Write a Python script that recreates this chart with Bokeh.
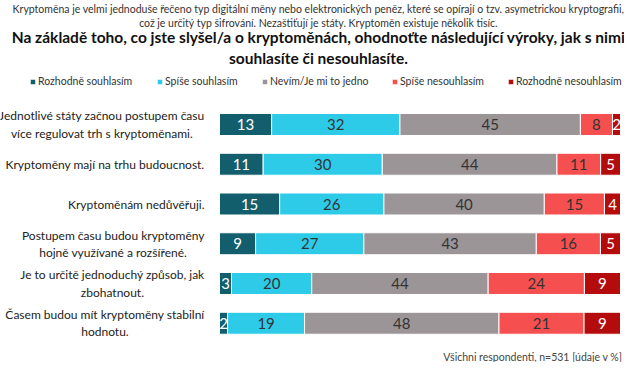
import numpy as np
from bokeh.plotting import figure
from bokeh.models import ColumnDataSource, Range1d, Legend, LegendItem
from bokeh.core.properties import value
from bokeh.embed import file_html
from bokeh.resources import INLINE

# ---------------- data ----------------
categories = [
    "Jednotlivé státy začnou postupem času\nvíce regulovat trh s kryptoměnami.",
    "Kryptoměny mají na trhu budoucnost.",
    "Kryptoměnám nedůvěřuji.",
    "Postupem času budou kryptoměny\nhojně využívané a rozšířené.",
    "Je to určitě jednoduchý způsob, jak\nzbohatnout.",
    "Časem budou mít kryptoměny stabilní\nhodnotu.",
]
series_names = ["Rozhodně souhlasím", "Spíše souhlasím", "Nevím/Je mi to jedno",
                "Spíše nesouhlasím", "Rozhodně nesouhlasím"]
rozhodne_souhlasim = [13, 11, 15, 9, 3, 2]
spise_souhlasim = [32, 30, 26, 27, 20, 19]
nevim = [45, 44, 40, 43, 44, 48]
spise_nesouhlasim = [8, 11, 15, 16, 24, 21]
rozhodne_nesouhlasim = [2, 5, 4, 5, 9, 9]

subtitle = ("Kryptoměna je velmi jednoduše řečeno typ digitální měny nebo elektronických peněz, "
            "které se opírají o tzv. asymetrickou kryptografii,\n"
            "což je určitý typ šifrování. Nezaštiťují je státy. Kryptoměn existuje několik tisíc.")
title = ("Na základě toho, co jste slyšel/a o kryptoměnách, ohodnoťte následující výroky, jak s nimi\n"
         "souhlasíte či nesouhlasíte.")
footer = "Všichni respondenti, n=531 [údaje v %]"

# ---------------- style ----------------
colors = ["#135e6c", "#2ecbe9", "#9c9597", "#f5504f", "#b40c0c"]
label_colors = ["#ffffff", "#333333", "#333333", "#333333", "#ffffff"]
FONT = "Lato"
LEGEND_X = [29, 156, 261, 391, 507]   # screen x of each legend entry

FIG_W, FIG_H = 624, 362
X0_PX, X1_PX = 219, 620      # bar start / end in figure pixels
Y0_PX, DY_PX = 124, 39.75    # first row center, row spacing


def dx(px):
    return (px - X0_PX) / (X1_PX - X0_PX) * 100.0


def dy(py):
    return (py - Y0_PX) / DY_PX


series = [rozhodne_souhlasim, spise_souhlasim, nevim, spise_nesouhlasim, rozhodne_nesouhlasim]
vals = np.array(series, dtype=float)          # shape (5, rows)
totals = vals.sum(axis=0)
shares = vals / totals * 100.0                # stacked to 100 %

rows = list(range(len(categories)))
keys = [f"s{i}" for i in range(len(series))]
data = {"y": rows}
for k, sh in zip(keys, shares):
    data[k] = list(sh)
src = ColumnDataSource(data)

p = figure(width=FIG_W, height=FIG_H,
           x_range=Range1d(dx(0), dx(FIG_W)),
           y_range=Range1d(dy(FIG_H), dy(0)),
           output_backend="svg", toolbar_location=None,
           x_axis_location=None, y_axis_location=None, min_border=0)
p.grid.visible = False
p.outline_line_color = None

renderers = p.hbar_stack(keys, y="y", height=0.553, color=colors, source=src,
                         line_color="white", line_width=1)

# value labels
lx, ly, lt, lc = [], [], [], []
cum = np.zeros(len(rows))
for si in range(len(series)):
    centers = cum + shares[si] / 2
    cum = cum + shares[si]
    for r in rows:
        lx.append(centers[r])
        ly.append(r)
        lt.append(str(series[si][r]))
        lc.append(label_colors[si])
p.text(x=lx, y=ly, text=lt, text_color=lc, text_align="center", text_baseline="middle",
       text_font=value(FONT), text_font_size="15px")

# category labels
p.text(x=[dx(204)] * len(rows), y=rows, text=categories,
       anchor=value("center_right"), text_align="center", text_baseline="middle",
       text_font=value(FONT), text_font_size="12px", text_color="#222222",
       text_line_height=1.15)

# subtitle and title
p.text(x=[dx(318)], y=[dy(15.5)], text=[subtitle], text_align="center", text_baseline="middle",
       text_font=value(FONT), text_font_size="10.5px", text_color="#333333", text_line_height=1.2)
p.text(x=[dx(318)], y=[dy(47)], text=[title], text_align="center", text_baseline="middle",
       text_font=value(FONT), text_font_size="15.5px", text_font_style="bold",
       text_color="#111111", text_line_height=1.15)

# footer
p.text(x=[dx(622)], y=[dy(356)], text=[footer], text_align="right", text_baseline="middle",
       text_font=value(FONT), text_font_size="10.5px", text_color="#444444")

# legend: one entry per Legend so each sits where the reference puts it
for name, r, lxp in zip(series_names, renderers, LEGEND_X):
    leg = Legend(items=[LegendItem(label=name, renderers=[r])],
                 orientation="horizontal", location=(lxp, 275), spacing=0,
                 glyph_width=7, glyph_height=7, label_standoff=2, padding=0, margin=0,
                 border_line_alpha=0, background_fill_alpha=0,
                 label_text_font=FONT, label_text_font_size="10.5px", label_text_color="#333333",
                 label_height=12, label_text_baseline="middle")
    p.add_layout(leg)

open("out.html", "w").write(file_html(p, INLINE))
